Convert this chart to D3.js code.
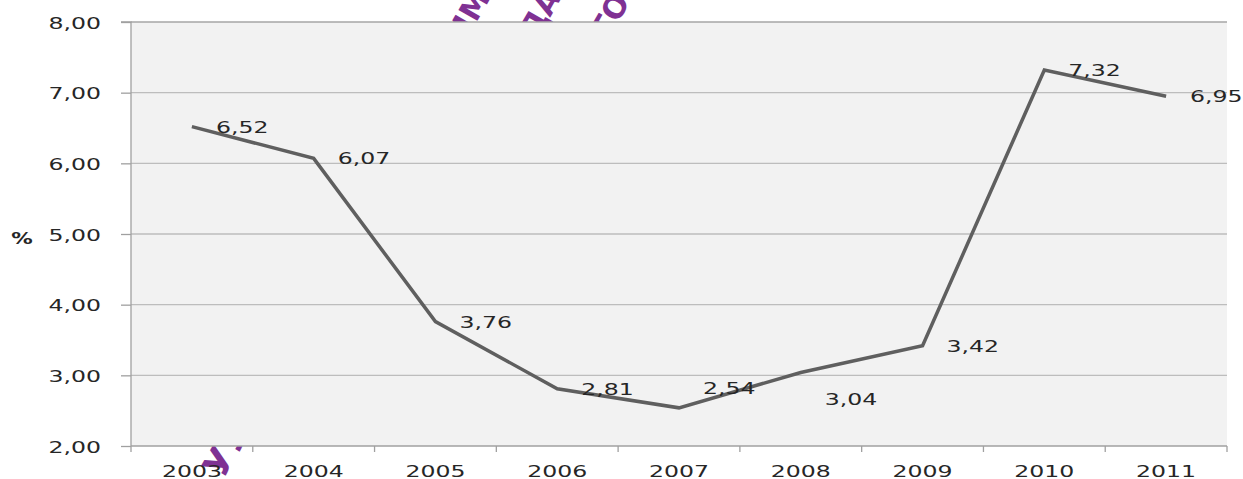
<!DOCTYPE html>
<html>
<head>
<meta charset="utf-8">
<script src="https://cdn.jsdelivr.net/npm/d3@7"></script>
<style>
  html, body { margin: 0; padding: 0; background: #ffffff; }
  svg { display: block; }
  text { font-family: "DejaVu Sans", Verdana, sans-serif; fill: #262626; }
</style>
</head>
<body>
<svg id="chart" width="1243" height="479"></svg>
<script>
// ---- data ----
const years = ["2003", "2004", "2005", "2006", "2007", "2008", "2009", "2010", "2011"];
const values = [6.52, 6.07, 3.76, 2.81, 2.54, 3.04, 3.42, 7.32, 6.95];
const yTicks = [2, 3, 4, 5, 6, 7, 8];
const yLabel = "%";
// label vertical nudges (px), as in the original layout
const labelNudge = [0, 0, 0, 0, -20, 26, 0, 0, 0];
// visible watermark fragments
const watermarkText = ["ИМ", "ДА", "ТО", "УУ"];
const watermarkPos = [[468, 16], [540, 14], [610, 16], [226, 450]];
const watermarkSize = [30, 30, 30, 36];

const W = 1243, H = 479;
const plot = { left: 131, right: 1227, top: 22, bottom: 446 };
const STRETCH = 1.43;
const FS = 16.5;

const svg = d3.select("#chart");
const locale = d3.formatLocale({ decimal: ",", thousands: " ", grouping: [3], currency: ["", ""] });
const fmt = locale.format(".2f");

const x = d3.scaleBand().domain(years).range([plot.left, plot.right]).paddingInner(0).paddingOuter(0);
const y = d3.scaleLinear().domain([2, 8]).range([plot.bottom, plot.top]);

// ---- watermark (behind plot) ----
svg.append("g").selectAll("text").data(watermarkText).join("text")
  .attr("transform", (d, i) => `translate(${watermarkPos[i][0]},${watermarkPos[i][1]}) rotate(-60)`)
  .attr("text-anchor", "middle")
  .attr("dy", "0.35em")
  .style("font-family", "'DejaVu Sans', sans-serif")
  .style("font-weight", "bold")
  .style("font-size", (d, i) => watermarkSize[i] + "px")
  .style("fill", "#7f3193")
  .text(d => d);

// ---- plot background ----
svg.append("rect")
  .attr("x", plot.left).attr("y", plot.top)
  .attr("width", plot.right - plot.left).attr("height", plot.bottom - plot.top)
  .attr("fill", "#f2f2f2");

// gridlines
svg.append("g").selectAll("line").data(yTicks.filter(d => d > 2)).join("line")
  .attr("x1", plot.left).attr("x2", plot.right)
  .attr("y1", d => y(d)).attr("y2", d => y(d))
  .attr("stroke", d => d === 8 ? "#a6a6a6" : "#bdbdbd").attr("stroke-width", 1.3);

// y axis
const yAxis = d3.axisLeft(y).tickValues(yTicks).tickSize(10).tickFormat(fmt);
const gy = svg.append("g").attr("transform", `translate(${plot.left},0)`).call(yAxis);
gy.select(".domain").attr("stroke", "#a0a0a0").attr("stroke-width", 1.3)
  .attr("d", `M-10,${plot.top}H0V${plot.bottom + 6}`);
gy.selectAll(".tick line").attr("stroke", "#a0a0a0").attr("stroke-width", 1.3);
gy.selectAll(".tick text")
  .attr("x", null).attr("dy", null)
  .attr("text-anchor", "end")
  .attr("transform", `translate(-30,6) scale(${STRETCH},1)`)
  .style("font-size", FS + "px").style("fill", "#262626");

// x axis
const xAxis = d3.axisBottom(x).tickSize(0).tickFormat(d => d);
const gx = svg.append("g").attr("transform", `translate(0,${plot.bottom})`).call(xAxis);
gx.select(".domain").attr("stroke", "#a0a0a0").attr("stroke-width", 1.3)
  .attr("d", `M${plot.left},0H${plot.right}`);
gx.selectAll(".tick text")
  .attr("y", null).attr("dy", null)
  .attr("text-anchor", "middle")
  .attr("transform", `translate(0,31) scale(${STRETCH},1)`)
  .style("font-size", FS + "px").style("fill", "#262626");
// category boundary ticks
const bounds = years.map(d => x(d)).slice(1).concat([plot.right]);
gx.append("g").selectAll("line").data(bounds).join("line")
  .attr("x1", d => d).attr("x2", d => d).attr("y1", 0).attr("y2", 6)
  .attr("stroke", "#a0a0a0").attr("stroke-width", 1.3);

// y label
svg.append("text")
  .attr("transform", `translate(22,244) scale(${STRETCH},1)`)
  .attr("text-anchor", "middle")
  .style("font-size", "15px").style("font-weight", "bold")
  .text(yLabel);

// ---- line ----
const pts = years.map((d, i) => ({ year: d, v: values[i], nudge: labelNudge[i] }));
const line = d3.line().x(d => x(d.year) + x.bandwidth() / 2).y(d => y(d.v));
svg.append("path").datum(pts)
  .attr("d", line)
  .attr("fill", "none")
  .attr("stroke", "#5f5f5f")
  .attr("stroke-width", 3.5)
  .attr("stroke-linejoin", "miter");

// data labels
svg.append("g").selectAll("text").data(pts).join("text")
  .attr("text-anchor", "start")
  .attr("transform", d => `translate(${x(d.year) + x.bandwidth() / 2 + 24},${y(d.v) + d.nudge + 6}) scale(${STRETCH},1)`)
  .style("font-size", FS + "px")
  .text(d => fmt(d.v));
</script>
</body>
</html>
